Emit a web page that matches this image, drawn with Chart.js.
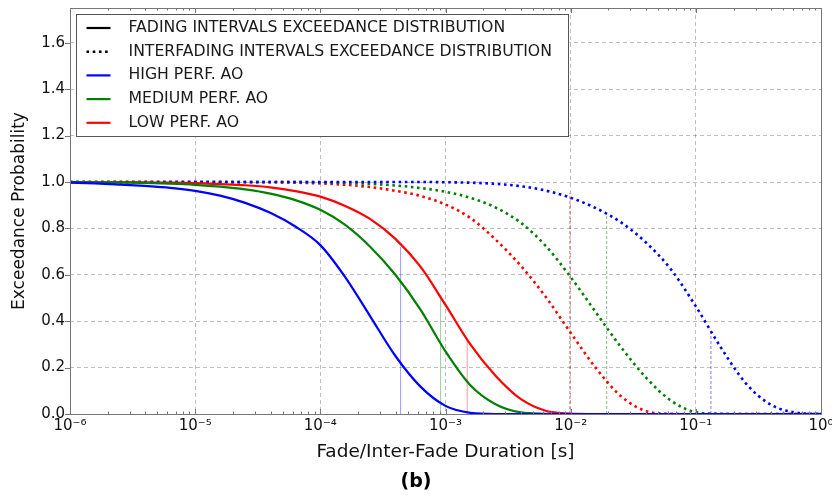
<!DOCTYPE html>
<html>
<head>
<meta charset="utf-8">
<script src="https://cdn.jsdelivr.net/npm/chart.js@4.4.1/dist/chart.umd.min.js"></script>
<style>
  html, body { margin: 0; padding: 0; background: #fff; }
  #wrap { width: 832px; height: 497px; }
</style>
</head>
<body>
<div id="wrap"><canvas id="myChart"></canvas></div>
<script>
// durations [s], 0.2 decade steps from 1e-6 to 1
const durations = [
  1e-6, 1.58e-6, 2.51e-6, 3.98e-6, 6.31e-6,
  1e-5, 1.58e-5, 2.51e-5, 3.98e-5, 6.31e-5,
  1e-4, 1.58e-4, 2.51e-4, 3.98e-4, 6.31e-4,
  1e-3, 1.58e-3, 2.51e-3, 3.98e-3, 6.31e-3,
  1e-2, 1.58e-2, 2.51e-2, 3.98e-2, 6.31e-2,
  1e-1, 1.58e-1, 2.51e-1, 3.98e-1, 6.31e-1,
  1
];

// fading intervals exceedance
const fadeHigh = [
  0.997, 0.994, 0.989, 0.983, 0.975, 0.962, 0.941, 0.91, 0.867, 0.808,
  0.728, 0.59, 0.42, 0.25, 0.118, 0.035, 0.005, 0, 0, 0,
  0, 0, 0, 0, 0, 0, 0, 0, 0, 0, 0
];
const fadeMedium = [
  1.0, 0.999, 0.998, 0.996, 0.993, 0.988, 0.98, 0.968, 0.95, 0.922,
  0.88, 0.815, 0.72, 0.6, 0.45, 0.27, 0.124, 0.042, 0.007, 0.001,
  0, 0, 0, 0, 0, 0, 0, 0, 0, 0, 0
];
const fadeLow = [
  1.0, 0.999, 0.999, 0.998, 0.997, 0.995, 0.991, 0.986, 0.977, 0.961,
  0.937, 0.897, 0.84, 0.755, 0.635, 0.47, 0.30, 0.165, 0.065, 0.014,
  0.002, 0, 0, 0, 0, 0, 0, 0, 0, 0, 0
];

// interfading intervals exceedance
const interHigh = [
  1.0, 1.0, 1.0, 1.0, 1.0, 1.0, 1.0, 1.0, 1.0, 1.0,
  1.0, 1.0, 1.0, 1.0, 1.0, 0.999, 0.997, 0.992, 0.982, 0.963,
  0.932, 0.888, 0.827, 0.74, 0.624, 0.464, 0.288, 0.132, 0.04, 0.006,
  0
];
const interMedium = [
  1.0, 1.0, 1.0, 1.0, 1.0, 1.0, 1.0, 1.0, 1.0, 1.0,
  0.998, 0.996, 0.992, 0.985, 0.974, 0.958, 0.932, 0.89, 0.825, 0.725,
  0.59, 0.44, 0.29, 0.158, 0.058, 0.008, 0.001, 0, 0, 0,
  0
];
const interLow = [
  1.0, 1.0, 1.0, 1.0, 1.0, 1.0, 1.0, 0.999, 0.999, 0.997,
  0.994, 0.988, 0.978, 0.962, 0.94, 0.903, 0.845, 0.752, 0.64, 0.505,
  0.35, 0.20, 0.078, 0.013, 0.001, 0, 0, 0, 0, 0,
  0
];

// median markers, fading: high, medium, low
const fadeMarkers = [4.38e-4, 9.14e-4, 1.49e-3];
const fadeMarkerTops = [0.72, 0.50, 0.326];
// median markers, interfading: low, medium, high
const interMarkers = [9.86e-3, 1.94e-2, 1.32e-1];
const interMarkerTops = [0.953, 0.858, 0.35];

const decadeTicks = [1e-6, 1e-5, 1e-4, 1e-3, 1e-2, 1e-1, 1];
const decadeLabels = ["10\u207B\u2076", "10\u207B\u2075", "10\u207B\u2074", "10\u207B\u00B3", "10\u207B\u00B2", "10\u207B\u00B9", "10\u2070"];
const yTicks = [0, 0.2, 0.4, 0.6, 0.8, 1.0, 1.2, 1.4, 1.6];

const legendLabels = [
  "FADING INTERVALS EXCEEDANCE DISTRIBUTION",
  "INTERFADING INTERVALS EXCEEDANCE DISTRIBUTION",
  "HIGH PERF. AO",
  "MEDIUM PERF. AO",
  "LOW PERF. AO",
];

const BLUE = "#0000ff";
const GREEN = "#008000";
const RED = "#ff0000";
const FONT = "'DejaVu Sans', sans-serif";
const DOTS = [2.6, 3.6];

const toPoints = (ys) => durations.map((d, i) => ({ x: d, y: ys[i] }));

function curve(ys, color, dotted) {
  return {
    data: toPoints(ys),
    borderColor: color,
    borderWidth: dotted ? 2.6 : 2.2,
    borderDash: dotted ? DOTS : [],
    pointRadius: 0,
    cubicInterpolationMode: "monotone",
    fill: false,
    order: 1,
  };
}

function marker(x, top, color, dotted) {
  return {
    data: [{ x: x, y: 0 }, { x: x, y: top }],
    borderColor: color,
    borderWidth: 1,
    borderDash: dotted ? [3, 2] : [],
    pointRadius: 0,
    fill: false,
    order: 2,
  };
}

const fadeMarkerColors = ["rgba(0,0,255,0.4)", "rgba(0,128,0,0.4)", "rgba(255,0,0,0.4)"];
const interMarkerColors = ["rgba(170,0,0,0.55)", "rgba(0,128,0,0.5)", "rgba(0,0,255,0.5)"];

const datasets = [
  curve(fadeHigh, BLUE, false),
  curve(fadeMedium, GREEN, false),
  curve(fadeLow, RED, false),
  curve(interHigh, BLUE, true),
  curve(interMedium, GREEN, true),
  curve(interLow, RED, true),
];
fadeMarkers.forEach((x, i) => datasets.push(marker(x, fadeMarkerTops[i], fadeMarkerColors[i], false)));
interMarkers.forEach((x, i) => datasets.push(marker(x, interMarkerTops[i], interMarkerColors[i], true)));

// frame, tick marks and the legend box
const frame = {
  id: "frame",
  afterDatasetsDraw(chart) {
    const { ctx, chartArea: a, scales } = chart;
    const x = scales.x, y = scales.y;
    ctx.save();
    ctx.strokeStyle = "#777";
    ctx.lineWidth = 1;
    ctx.setLineDash([]);

    ctx.beginPath();
    // y ticks, outward
    yTicks.forEach((v) => {
      const py = Math.round(y.getPixelForValue(v)) + 0.5;
      ctx.moveTo(a.left - 5, py); ctx.lineTo(a.left, py);
    });
    // x minor ticks, inward
    for (let e = -6; e < 0; e++) {
      for (let m = 2; m <= 9; m++) {
        const px = Math.round(x.getPixelForValue(m * Math.pow(10, e))) + 0.5;
        ctx.moveTo(px, a.bottom); ctx.lineTo(px, a.bottom - 2.5);
        ctx.moveTo(px, a.top); ctx.lineTo(px, a.top + 2.5);
      }
    }
    decadeTicks.forEach((v) => {
      const px = Math.round(x.getPixelForValue(v)) + 0.5;
      ctx.moveTo(px, a.bottom); ctx.lineTo(px, a.bottom - 5);
      ctx.moveTo(px, a.top); ctx.lineTo(px, a.top + 5);
    });
    ctx.stroke();
    ctx.strokeRect(Math.round(a.left) + 0.5, Math.round(a.top) + 0.5,
      Math.round(a.right - a.left), Math.round(a.bottom - a.top));

    // legend
    const lx = a.left + 6.5, ly = a.top + 6.5, lw = 492, lh = 122;
    ctx.fillStyle = "#fff";
    ctx.fillRect(lx, ly, lw, lh);
    ctx.strokeStyle = "#555";
    ctx.strokeRect(lx, ly, lw, lh);
    const styles = [
      { c: "#000", dash: [], w: 2.2 },
      { c: "#000", dash: DOTS, w: 2.6 },
      { c: BLUE, dash: [], w: 2.2 },
      { c: GREEN, dash: [], w: 2.2 },
      { c: RED, dash: [], w: 2.2 },
    ];
    ctx.font = "15.7px " + FONT;
    ctx.textBaseline = "middle";
    ctx.textAlign = "left";
    legendLabels.forEach((t, i) => {
      const ry = ly + 13.5 + i * 23.7;
      ctx.beginPath();
      ctx.strokeStyle = styles[i].c;
      ctx.lineWidth = styles[i].w;
      ctx.setLineDash(styles[i].dash);
      ctx.moveTo(lx + 10, ry);
      ctx.lineTo(lx + 34, ry);
      ctx.stroke();
      ctx.fillStyle = "#1a1a1a";
      ctx.fillText(t, lx + 52, ry);
    });
    ctx.restore();
  },
};

const config = {
  type: "line",
  data: { datasets: datasets },
  options: {
    responsive: true,
    maintainAspectRatio: false,
    animation: false,
    layout: { padding: { top: 8, right: 11, left: 11, bottom: 0 } },
    plugins: {
      legend: { display: false },
      tooltip: { enabled: false },
      title: {
        display: true,
        position: "bottom",
        text: "(b)",
        color: "#000",
        font: { family: FONT, size: 19, weight: "bold" },
        padding: { top: 0, bottom: 4 },
      },
    },
    scales: {
      x: {
        type: "logarithmic",
        min: 1e-6,
        max: 1,
        afterBuildTicks: (s) => { s.ticks = decadeTicks.map((v) => ({ value: v })); },
        afterFit: (s) => {
          s.height = 56.2;
          s.paddingLeft = 0;
          s.paddingRight = 0;
        },
        ticks: {
          autoSkip: false,
          maxRotation: 0,
          padding: 3,
          color: "#111",
          font: { family: FONT, size: 15 },
          callback: (v, i) => decadeLabels[i],
        },
        grid: { color: "rgba(0,0,0,0.25)", drawTicks: false },
        border: { display: false, dash: [4, 3] },
        title: {
          display: true,
          text: "Fade/Inter-Fade Duration [s]",
          color: "#111",
          font: { family: FONT, size: 18.5 },
          padding: { top: 0, bottom: 7 },
        },
      },
      y: {
        min: 0,
        max: 1.75,
        afterBuildTicks: (s) => { s.ticks = yTicks.map((v) => ({ value: v })); },
        afterFit: (s) => {
          s.width = 59;
          s.paddingTop = 0;
          s.paddingBottom = 0;
        },
        ticks: {
          padding: 5,
          color: "#111",
          font: { family: FONT, size: 15 },
          callback: (v) => Number(v).toFixed(1),
        },
        grid: { color: "rgba(0,0,0,0.25)", drawTicks: false },
        border: { display: false, dash: [4, 3] },
        title: {
          display: true,
          text: "Exceedance Probability",
          color: "#111",
          font: { family: FONT, size: 17, lineHeight: 1 },
          padding: { top: 0.5, bottom: 0 },
        },
      },
    },
  },
  plugins: [frame],
};

const myChart = new Chart(document.getElementById("myChart"), config);
</script>
</body>
</html>
